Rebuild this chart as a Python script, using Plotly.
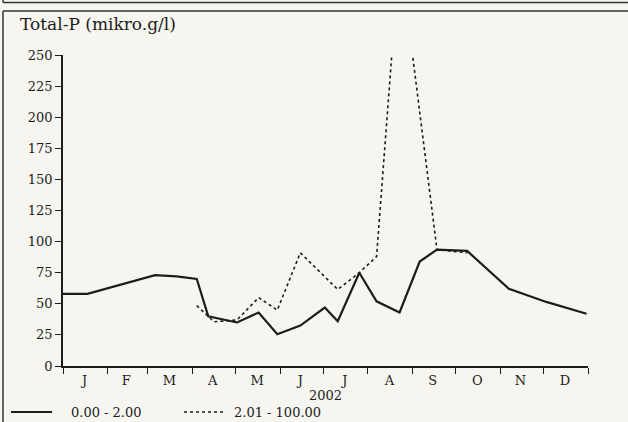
import plotly.graph_objects as go

# ---- data ----
solid_dates = ["2002-01-01", "2002-01-18", "2002-03-06", "2002-03-21", "2002-04-04",
               "2002-04-12", "2002-05-02", "2002-05-17", "2002-05-30", "2002-06-15",
               "2002-07-02", "2002-07-11", "2002-07-26", "2002-08-07", "2002-08-23",
               "2002-09-06", "2002-09-18", "2002-10-09", "2002-11-07", "2002-12-03",
               "2002-12-31"]
solid_vals = [58, 58, 73, 72, 70, 40, 35, 43, 25.5, 32.5, 47, 36, 75, 52, 43,
              84, 93.5, 92.5, 62, 51.5, 42]

dot_dates = ["2002-04-04", "2002-04-16", "2002-05-02", "2002-05-17", "2002-05-30",
             "2002-06-15", "2002-07-11", "2002-07-26", "2002-08-07", "2002-08-23",
             "2002-09-18", "2002-10-09"]
dot_vals = [48.5, 35.5, 37, 55, 45, 91, 61.5, 75, 88, 333, 93.5, 91]

series_names = ["0.00 - 2.00", "2.01 - 100.00"]
month_starts = ["2002-01-01", "2002-02-01", "2002-03-01", "2002-04-01", "2002-05-01",
                "2002-06-01", "2002-07-01", "2002-08-01", "2002-09-01", "2002-10-01",
                "2002-11-01", "2002-12-01", "2003-01-01"]
month_mids = ["2002-01-16", "2002-02-14", "2002-03-16", "2002-04-15", "2002-05-16",
              "2002-06-15", "2002-07-16", "2002-08-16", "2002-09-15", "2002-10-16",
              "2002-11-15", "2002-12-16"]
month_labels = ["J", "F", "M", "A", "M", "J", "J", "A", "S", "O", "N", "D"]
y_ticks = [0, 25, 50, 75, 100, 125, 150, 175, 200, 225, 250]
x_title = "2002"
y_title = "Total-P (mikro.g/l)"

# ---- layout geometry (pixels) ----
W, H = 628, 422
L, R, T, B = 63, 588, 55, 366
BG = "#f6f5f0"
INK = "#1c1c1c"
FONT = "DejaVu Serif"


def px(x):
    return (x - L) / (R - L)


def py(y):
    return (B - y) / (B - T)


fig = go.Figure()
fig.add_trace(go.Scatter(x=solid_dates, y=solid_vals, mode="lines", name=series_names[0],
                         line=dict(color=INK, width=2.2), showlegend=False))
fig.add_trace(go.Scatter(x=dot_dates, y=dot_vals, mode="lines", name=series_names[1],
                         line=dict(color=INK, width=1.6, dash="dot"), showlegend=False))
# invisible trace to carry the month-letter axis
fig.add_trace(go.Scatter(x=month_mids, y=[None] * len(month_mids), xaxis="x2",
                         showlegend=False, hoverinfo="skip"))

fig.update_layout(
    width=W, height=H,
    margin=dict(l=L, r=W - R, t=T, b=H - B, pad=0),
    paper_bgcolor=BG, plot_bgcolor=BG,
    font=dict(family=FONT, size=13, color=INK),
    title=dict(text=y_title, x=20 / W, xref="container", xanchor="left",
               y=1 - 24 / H, yref="container", yanchor="middle",
               font=dict(family=FONT, size=17, color=INK)),
    xaxis=dict(type="date", range=[month_starts[0], month_starts[-1]],
               tickmode="array", tickvals=month_starts, ticktext=[""] * len(month_starts),
               ticks="outside", ticklen=6, tickwidth=1.3, tickcolor=INK,
               showline=True, linecolor=INK, linewidth=1.5,
               showgrid=False, zeroline=False),
    xaxis2=dict(type="date", overlaying="x", side="bottom", anchor="y",
                range=[month_starts[0], month_starts[-1]],
                tickmode="array", tickvals=month_mids, ticktext=month_labels,
                ticks="", ticklabelstandoff=5,
                tickfont=dict(family=FONT, size=13, color=INK),
                title=dict(text=x_title, standoff=2, font=dict(family=FONT, size=13, color=INK)),
                showline=False, showgrid=False, zeroline=False),
    yaxis=dict(range=[0, 250], tickmode="array", tickvals=y_ticks,
               ticks="outside", ticklen=6, tickwidth=1.3, tickcolor=INK,
               showline=True, linecolor=INK, linewidth=1.5,
               tickfont=dict(family=FONT, size=13, color=INK),
               showgrid=False, zeroline=False),
)

# frame lines
frame = dict(color="#333333", width=1.5)
shapes = [
    dict(type="line", xref="paper", yref="paper", x0=px(3), x1=px(W + 5), y0=py(2.5), y1=py(2.5), line=frame),
    dict(type="line", xref="paper", yref="paper", x0=px(3), x1=px(3), y0=py(-5), y1=py(2.5), line=frame),
    dict(type="line", xref="paper", yref="paper", x0=px(3), x1=px(W + 5), y0=py(11), y1=py(11), line=frame),
    dict(type="line", xref="paper", yref="paper", x0=px(3), x1=px(3), y0=py(11), y1=py(H + 5), line=frame),
    # legend samples
    dict(type="line", xref="paper", yref="paper", x0=px(11), x1=px(52), y0=py(412), y1=py(412),
         line=dict(color=INK, width=2.2)),
    dict(type="line", xref="paper", yref="paper", x0=px(184), x1=px(225), y0=py(412), y1=py(412),
         line=dict(color=INK, width=1.6, dash="dot")),
]
annotations = [
    dict(text=series_names[0], xref="paper", yref="paper", x=px(69), y=py(412),
         xanchor="left", yanchor="middle", showarrow=False,
         font=dict(family=FONT, size=13, color=INK)),
    dict(text=series_names[1], xref="paper", yref="paper", x=px(232), y=py(412),
         xanchor="left", yanchor="middle", showarrow=False,
         font=dict(family=FONT, size=13, color=INK)),
]
fig.update_layout(shapes=shapes, annotations=annotations)

fig.write_html("out.html")
